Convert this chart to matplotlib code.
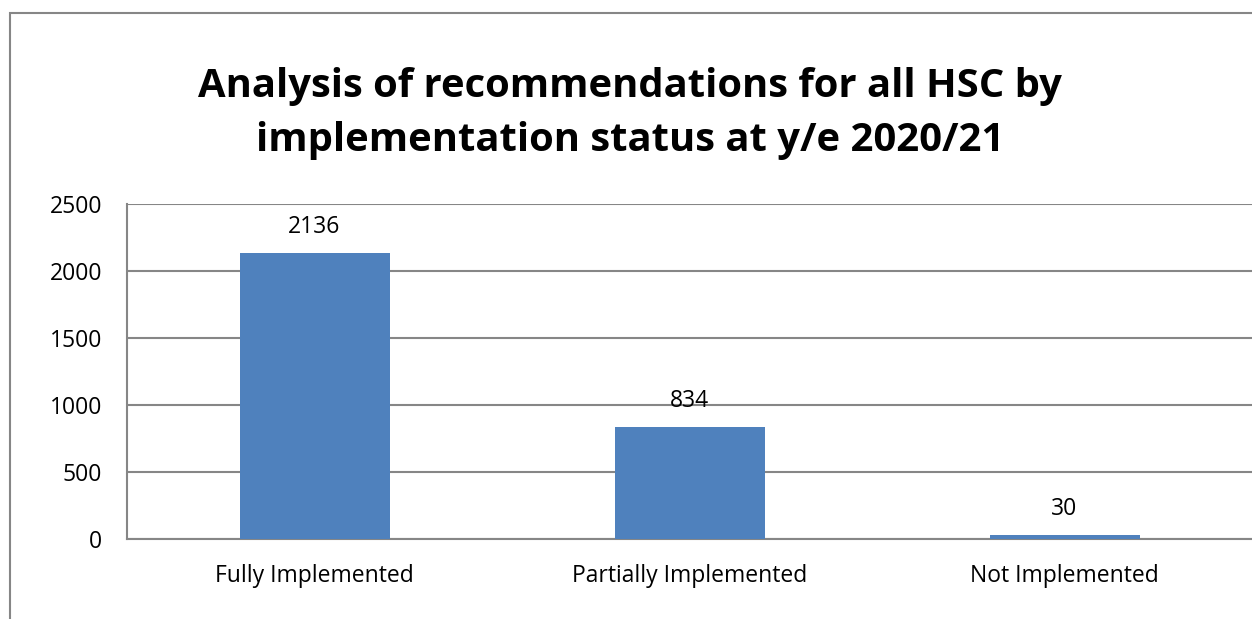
import matplotlib.pyplot as plt
from matplotlib.patches import Rectangle
import numpy as np

categories = ["Fully Implemented", "Partially Implemented", "Not Implemented"]
counts = [2136, 834, 30]
y_ticks = [0, 500, 1000, 1500, 2000, 2500]
title = "Analysis of recommendations for all HSC by\nimplementation status at y/e 2020/21"

plt.rcParams['font.family'] = ['Open Sans', 'DejaVu Sans']

fig = plt.figure(figsize=(12.52, 6.19), dpi=100)
ax = fig.add_axes([127/1252, 1 - 539/619, 1 - 127/1252, (539 - 204)/619])

# outer chart frame
fig.patches.append(Rectangle((10/1252, -0.05), 1.1, 1 - 13/619 + 0.05,
                             transform=fig.transFigure, fill=False,
                             edgecolor='#868686', linewidth=1.5))

x = np.arange(len(categories))
ax.bar(x, counts, width=0.4, color='#4F81BD', zorder=3)
for xi, c in zip(x, counts):
    ax.annotate(str(c), (xi, c), xytext=(0, 10), textcoords='offset points',
                ha='center', va='bottom', fontsize=16.5)

ax.set_xlim(-0.5, 2.5)
ax.set_ylim(0, 2500)
ax.set_yticks(y_ticks)
ax.set_xticks(x)
ax.set_xticklabels(categories)
ax.tick_params(length=0, labelsize=16.5)
ax.tick_params(axis='y', pad=18)
ax.tick_params(axis='x', pad=18)
ax.grid(axis='y', color='#868686', linewidth=1.5, zorder=0)
for s in ['top', 'right']:
    ax.spines[s].set_visible(False)
for s in ['left', 'bottom']:
    ax.spines[s].set_color('#868686')
    ax.spines[s].set_linewidth(1.5)

fig.text(630/1252, 1 - 113/619, title, ha='center', va='center',
         fontsize=28.8, fontweight='bold', linespacing=1.5)

fig.savefig("out.png", dpi=100)
